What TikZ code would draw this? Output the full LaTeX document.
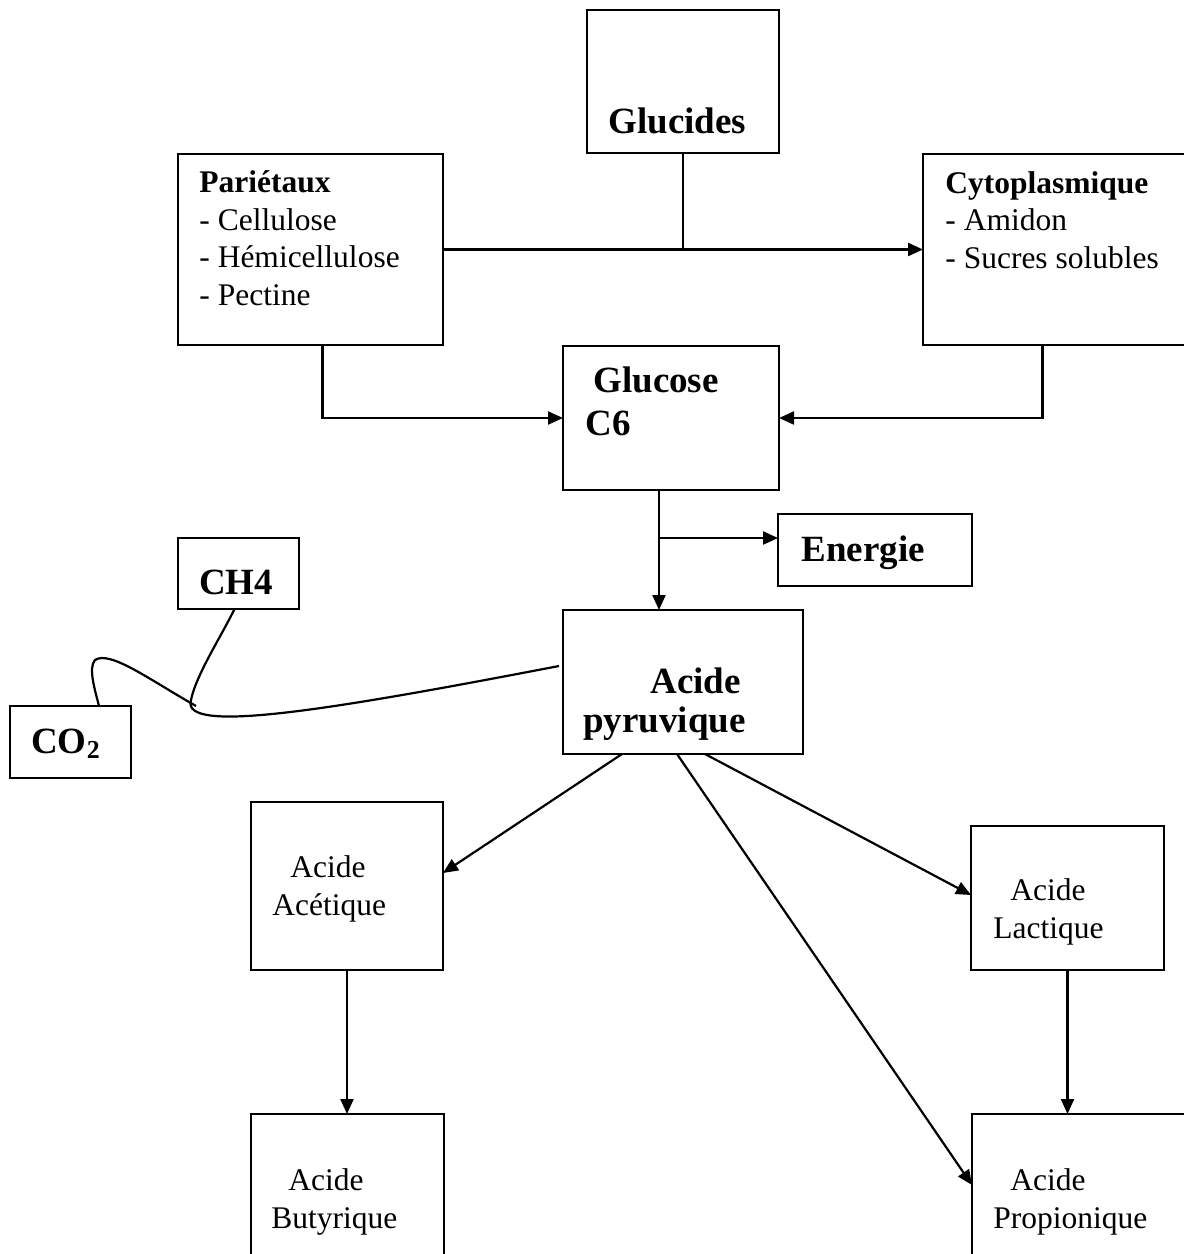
\documentclass[tikz,border=0pt]{standalone}
\usepackage{fontspec}
\setmainfont{Liberation Serif}
\usepackage{tikz}
\usetikzlibrary{arrows.meta}
\newcommand\petit{\fontsize{15.75}{18.75}\selectfont}
\newcommand\grand{\fontsize{18.5}{21.5}\selectfont\bfseries}

\begin{document}
\begin{tikzpicture}[x=0.5pt, y=-0.5pt,
		boite/.style={draw, line width=1.3pt, inner sep=0pt, outer sep=0pt},
		texte/.style={inner sep=0pt, align=left, anchor=base west, font=\petit},
		gras/.style={texte, font=\grand},
		fleche/.style={line width=1.1pt, -{Triangle[length=7.5pt, width=6.5pt]}},
		trait/.style={line width=1.1pt}]
			\clip (0,0) rectangle (1184,1254);
			% Boxes
			\node[boite, minimum width=96pt, minimum height=71.5pt] (glucides) at (683,81.5) {};
			\node[boite, minimum width=132.5pt, minimum height=95.5pt] (parietaux) at (310.5,249.5) {};
			\node[boite, minimum width=133.5pt, minimum height=95.5pt] (cyto) at (1056.5,249.5) {};
			\node[boite, minimum width=108pt, minimum height=72pt] (glucose) at (671,418) {};
			\node[boite, minimum width=97pt, minimum height=36pt] (energie) at (875,550) {};
			\node[boite, minimum width=60.5pt, minimum height=35.5pt] (ch4) at (238.5,573.5) {};
			\node[boite, minimum width=60.5pt, minimum height=36pt] (co2) at (70.5,742) {};
			\node[boite, minimum width=120pt, minimum height=72pt] (pyruv) at (683,682) {};
			\node[boite, minimum width=96pt, minimum height=84pt] (acetique) at (347,886) {};
			\node[boite, minimum width=96.5pt, minimum height=72pt] (lactique) at (1067.5,898) {};
			\node[boite, minimum width=96.5pt, minimum height=88pt] (butyrique) at (347.5,1202) {};
			\node[boite, minimum width=109pt, minimum height=88pt] (propion) at (1081,1202) {};
			% Texts (base = last line)
			\node[gras] (t-glucides) at (608,133) {Glucides};
			\node[texte] (t-parietaux) at (199,305)
				{\textbf{Pariétaux}\\- Cellulose\\- Hémicellulose\\- Pectine};
			\node[texte] (t-cyto) at (945,268)
				{\textbf{Cytoplasmique}\\- Amidon\\- Sucres solubles};
			\node[gras] (t-glucose) at (585,435) {\hspace{4pt}Glucose\\C6};
			\node[gras] (t-energie) at (801,561) {Energie};
			\node[gras, anchor=base] (t-ch4) at (236,594) {CH4};
			\node[gras, anchor=base] (t-co2) at (66,753) {CO\textsubscript{2}};
			\node[gras] (t-pyruv) at (583,732) {\hspace{33.5pt}Acide\\[-2pt]pyruvique};
			\node[texte] (t-acetique) at (272,915) {\hspace{9pt}Acide\\Acétique};
			\node[texte] (t-lactique) at (993,938) {\hspace{8.5pt}Acide\\Lactique};
			\node[texte] (t-butyrique) at (271,1228) {\hspace{8.5pt}Acide\\Butyrique};
			\node[texte] (t-propion) at (993,1228) {\hspace{8.5pt}Acide\\Propionique};
			% Glucides to the two families
			\draw[fleche] (parietaux.east) -- (cyto.west);
			\draw[trait] (glucides.south) -- (glucides.south |- parietaux.east);
			% Towards glucose
			\draw[fleche] ([xshift=6pt]parietaux.south) |- (glucose.west);
			\draw[fleche] ([xshift=-7pt]cyto.south) |- (glucose.east);
			% Glycolysis and energy
			\coordinate (g) at ([xshift=-6pt]glucose.south);
			\draw[fleche] (g) -- (g |- pyruv.north);
			\draw[fleche] (g |- 0,538) -- ([yshift=6pt]energie.west);
			% Gases
			\coordinate (noeud) at (196,706);
			\draw[trait] ([xshift=-2pt, yshift=8pt]pyruv.west)
				.. controls (330,710) and (180,735) .. (191,700)
				.. controls (196,675) and (222,635) .. ([xshift=-2pt]ch4.south);
			\draw[trait] (noeud) .. controls (150,680) and (110,650) .. (95,660)
				.. controls (88,668) and (95,690) .. ([xshift=14.25pt]co2.north);
			% Fermentation products
			\draw[fleche] ([xshift=-30.5pt]pyruv.south) -- ([yshift=6.5pt]acetique.east);
			\draw[fleche] ([xshift=-3pt]pyruv.south) -- ([yshift=8.5pt]propion.west);
			\draw[fleche] ([xshift=11pt]pyruv.south) -- ([yshift=1.5pt]lactique.west);
			\draw[fleche] (acetique.south) -- (acetique.south |- butyrique.north);
			\draw[fleche] (lactique.south) -- (lactique.south |- propion.north);
		\end{tikzpicture}
\end{document}
